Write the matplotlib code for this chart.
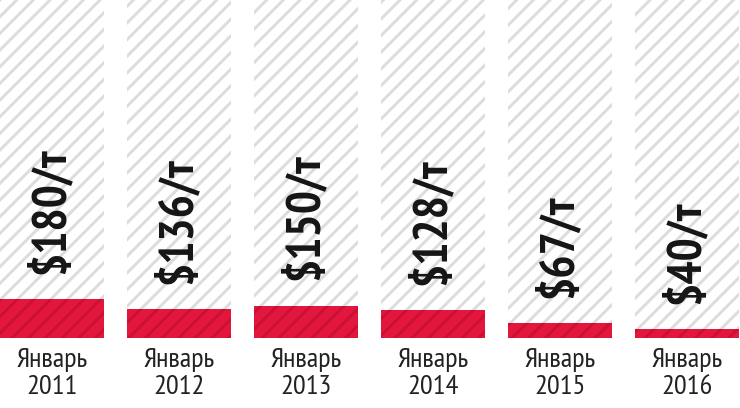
import matplotlib
matplotlib.use("Agg")
import matplotlib.pyplot as plt

categories = ["Январь\n2011", "Январь\n2012", "Январь\n2013", "Январь\n2014", "Январь\n2015", "Январь\n2016"]
values = [180, 136, 150, 128, 67, 40]
value_labels = ["$180/т", "$136/т", "$150/т", "$128/т", "$67/т", "$40/т"]
scale_max = 1560

fam = ["PT Sans Narrow", "DejaVu Sans"]
plt.rcParams['hatch.linewidth'] = 2.1

fig = plt.figure(figsize=(7.4, 4.08), dpi=100)
ax = fig.add_axes([0, 70/408, 1, 338/408])

w = 0.819
x = list(range(len(values)))
ax.bar(x, [scale_max]*len(values), width=w, color="white", edgecolor="#dcdcdc",
       hatch="//", linewidth=0)
ax.bar(x, values, width=w, color="#e3173e", edgecolor="#cc1034", hatch="//", linewidth=0)

for xi, v, lab in zip(x, values, value_labels):
    ax.annotate(lab, (xi, v), xytext=(-1, 18), textcoords="offset points",
                rotation=90, ha="center", va="bottom", fontsize=35,
                fontweight="bold", family=fam, color="#151515")

ax.set_xlim(-w/2, -w/2 + 740/127)
ax.set_ylim(0, scale_max)
ax.set_xticks(x)
ax.set_xticklabels(categories, fontsize=20.5, family=fam, color="#222222",
                   linespacing=1.17)
ax.tick_params(axis="x", length=0, pad=7)
ax.set_yticks([])
for s in ax.spines.values():
    s.set_visible(False)

fig.savefig("out.png", dpi=100)
